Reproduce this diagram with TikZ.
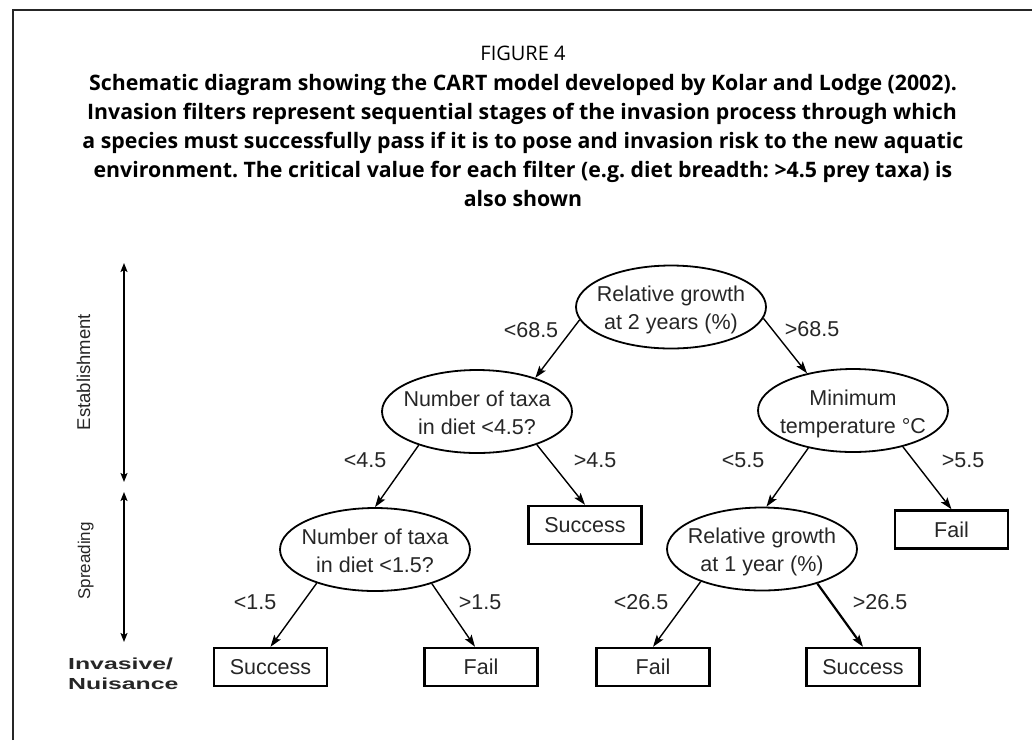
\documentclass[tikz,border=0pt]{standalone}
\usepackage{fontspec}
\setmainfont{Liberation Sans}
\newfontfamily\capfont{Open Sans}
\frenchspacing
\usetikzlibrary{arrows.meta,shapes.geometric,calc}
\newcommand{\ovaltext}[2]{\raisebox{-3pt}[\height][\depth]{\begin{tabular}{@{}c@{}}#1\\#2\end{tabular}}}
\begin{document}
\begin{tikzpicture}[x=1pt,y=-1pt,
  oval/.style={ellipse, draw, line width=1.8pt, minimum width=190pt, minimum height=83pt,
    inner xsep=-14pt, inner ysep=0pt, text=black!85, font=\fontsize{21.5}{28}\selectfont},
  leaf/.style={rectangle, draw, line width=2.4pt, minimum width=113pt, minimum height=38pt,
    inner sep=0pt, text=black!85, font=\fontsize{21.5}{25}\selectfont},
  edge/.style={line width=1.4pt, -{Stealth[length=12pt,width=8pt,inset=2.5pt]}},
  stage/.style={line width=2.2pt, {Stealth[length=9pt,width=7pt,inset=2pt]}-{Stealth[length=9pt,width=7pt,inset=2pt]}},
  lbl/.style={inner sep=0pt, text=black!85, font=\fontsize{21.5}{25}\selectfont},
  capline/.style={anchor=base, inner sep=0pt, font=\capfont\bfseries\fontsize{21.3}{25}\selectfont},
  side/.style={anchor=base, rotate=90, inner sep=0pt, text=black!85},
  wide/.style={anchor=base west, inner sep=0pt, text=black!85, font=\bfseries\fontsize{16}{20}\selectfont},
  frame/.style={line width=1.3pt, black!85}
]
\useasboundingbox (0,0) rectangle (1032,740);
% frame
\coordinate (fa) at (13,740);
\coordinate (fb) at (13,10);
\coordinate (fc) at (1032,10);
\draw[frame] (fa) -- (fb) -- (fc);
% caption
\node[anchor=base, inner sep=0pt, font=\capfont\fontsize{20}{24}\selectfont] (fig) at (523,60.7) {FIGURE 4};
\node[capline] (c1) at (523,90.7) {Schematic diagram showing the CART model developed by Kolar and Lodge (2002).};
\node[capline] (c2) at (522,119.5) {Invasion filters represent sequential stages of the invasion process through which};
\node[capline] (c3) at (523,148.3) {a species must successfully pass if it is to pose and invasion risk to the new aquatic};
\node[capline] (c4) at (523,177) {environment. The critical value for each filter (e.g. diet breadth: >4.5 prey taxa) is};
\node[capline] (c5) at (523,206) {also shown};
% stage axis
\coordinate (s1) at (124,263);
\coordinate (s2) at (124,482);
\coordinate (s3) at (124,492);
\coordinate (s4) at (124,642);
\draw[stage] (s1) -- (s2);
\draw[stage] (s3) -- (s4);
\node[side, font=\fontsize{18.5}{20}\selectfont] (est) at (90,372) {Establishment};
\node[side, font=\fontsize{17}{20}\selectfont] (spr) at (90,561) {Spreading};
\node[wide] (inv) at (68,669) {\scalebox{1.55}[1]{Invasive/}};
\node[wide] (nui) at (68,689) {\scalebox{1.55}[1]{Nuisance}};
% tree nodes
\node[oval] (R) at (671,307) {\ovaltext{Relative growth}{at 2 years (\%)}};
\node[oval] (E1) at (477,411.5) {\ovaltext{Number of taxa}{in diet <4.5?}};
\node[oval] (MT) at (853,410.5) {\ovaltext{Minimum}{temperature °C}};
\node[oval] (E2) at (375,549.5) {\ovaltext{Number of taxa}{in diet <1.5?}};
\node[oval] (RG1) at (762,549) {\ovaltext{Relative growth}{at 1 year (\%)}};
\node[leaf] (S2) at (585,525) {Success};
\node[leaf] (F2) at (951.5,529.5) {Fail};
\node[leaf] (S1) at (270.5,667) {Success};
\node[leaf] (F1) at (481,667) {Fail};
\node[leaf] (F3) at (653,667) {Fail};
\node[leaf] (S3) at (863,667) {Success};
% connectors
\draw[edge] (R.188) -- (E1.30);
\draw[edge] (R.-7) -- (MT.141);
\draw[edge] (E1.210) -- (E2.north);
\draw[edge] (E1.-29) -- (S2.north);
\draw[edge] (MT.220) -- (RG1.84);
\draw[edge] (MT.-36) -- (F2.north);
\draw[edge] (E2.210) -- (S1.north);
\draw[edge] (E2.-31) -- ($(F1.north)+(-6,0)$);
\draw[edge] (RG1.208) -- (F3.north);
\draw[edge, line width=2.2pt] (RG1.-32) -- (S3.north);
% labels
\node[lbl] (l1) at (531,330) {<68.5};
\node[lbl] (l2) at (812,329) {>68.5};
\node[lbl] (l3) at (365,460) {<4.5};
\node[lbl] (l4) at (595,460) {>4.5};
\node[lbl] (l5) at (743,460) {<5.5};
\node[lbl] (l6) at (963,460) {>5.5};
\node[lbl] (l7) at (255,602) {<1.5};
\node[lbl] (l8) at (480,602) {>1.5};
\node[lbl] (l9) at (641,602) {<26.5};
\node[lbl] (l10) at (880,602) {>26.5};
\end{tikzpicture}
\end{document}
